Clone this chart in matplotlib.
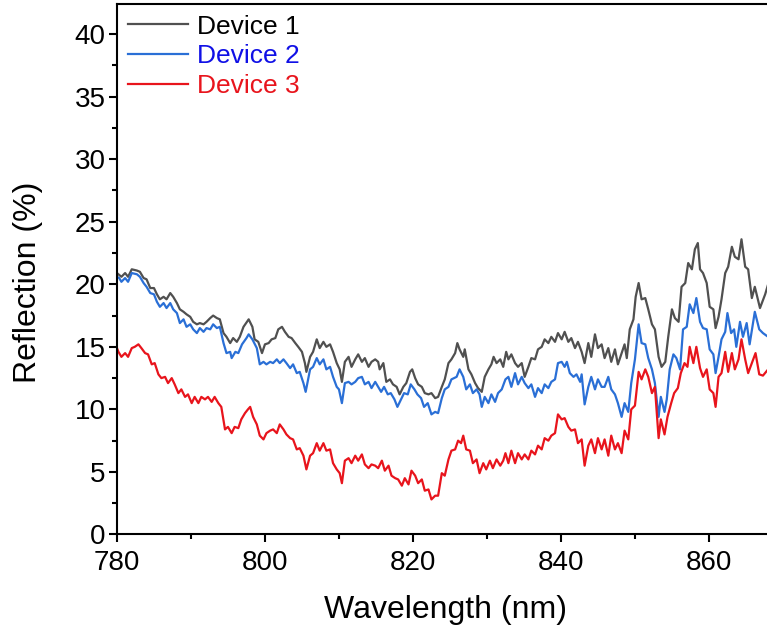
import numpy as np
import matplotlib
matplotlib.use('Agg')
import matplotlib.pyplot as plt
from matplotlib.ticker import MultipleLocator

plt.rcParams['font.family'] = ['Liberation Sans', 'DejaVu Sans']

# Device 1 (gray)
wl1 = [780.0, 780.6, 781.1, 781.5, 782.0, 782.7, 783.1, 783.6, 784.0, 784.5,
       785.0, 785.4, 785.8, 786.3, 786.7, 787.2, 787.6, 788.1, 788.5, 789.0,
       789.4, 789.9, 790.3, 790.8, 791.2, 791.7, 792.1, 792.6, 793.0, 793.5,
       793.9, 794.4, 794.8, 795.3, 795.7, 796.2, 796.6, 797.1, 797.8, 798.3,
       798.6, 799.1, 799.6, 800.0, 800.5, 800.9, 801.4, 801.8, 802.3, 802.7,
       803.2, 803.6, 804.1, 804.5, 805.0, 805.4, 805.6, 806.1, 806.5, 807.0,
       807.4, 807.9, 808.3, 808.8, 809.2, 809.7, 810.1, 810.4, 810.8, 811.3,
       811.7, 812.2, 812.6, 813.1, 813.5, 814.0, 814.4, 814.9, 815.3, 815.5,
       816.0, 816.4, 816.9, 817.3, 817.8, 818.2, 818.7, 819.1, 819.6, 819.9,
       820.3, 820.7, 821.2, 821.6, 822.1, 822.5, 823.0, 823.4, 823.9, 824.3,
       824.8, 825.2, 825.7, 826.0, 826.3, 826.8, 827.0, 827.5, 827.9, 828.4,
       828.8, 829.3, 829.7, 830.2, 830.6, 830.9, 831.3, 831.8, 832.2, 832.6,
       832.9, 833.3, 833.8, 834.2, 834.7, 835.1, 835.6, 836.0, 836.5, 836.9,
       837.4, 837.8, 838.3, 838.7, 839.2, 839.6, 840.1, 840.5, 841.0, 841.4,
       841.9, 842.3, 842.8, 843.2, 843.7, 844.1, 844.6, 845.0, 845.5, 845.9,
       846.4, 846.8, 847.3, 847.7, 848.2, 848.6, 848.9, 849.3, 849.8, 850.1,
       850.5, 850.9, 851.4, 851.8, 852.3, 852.7, 853.2, 853.6, 854.1, 854.5,
       855.0, 855.4, 855.9, 856.3, 856.8, 857.2, 857.7, 858.1, 858.5, 858.8,
       859.2, 859.7, 860.1, 860.6, 860.9, 861.3, 861.7, 862.2, 862.6, 863.1,
       863.5, 864.0, 864.4, 864.9, 865.3, 865.8, 866.2, 866.9, 867.6, 868.0]
r1 = [20.9, 20.6, 20.9, 20.6, 21.2, 21.1, 21.0, 20.5, 20.4, 19.7,
      19.7, 19.2, 18.8, 19.0, 18.8, 19.3, 19.0, 18.5, 18.0, 17.8,
      17.6, 17.4, 17.0, 16.8, 16.9, 16.8, 17.0, 17.3, 17.5, 17.3,
      17.2, 16.1, 15.8, 15.3, 15.7, 15.4, 15.8, 16.6, 17.2, 16.6,
      15.6, 15.4, 14.5, 15.2, 15.3, 15.6, 15.7, 16.4, 16.6, 16.2,
      15.8, 15.7, 15.3, 15.0, 14.6, 13.7, 13.0, 14.2, 14.6, 15.6,
      14.9, 15.4, 15.0, 15.2, 14.6, 13.7, 13.2, 12.2, 13.8, 14.2,
      13.4, 14.0, 14.4, 13.8, 14.1, 13.4, 13.8, 14.0, 13.8, 13.2,
      13.7, 12.2, 12.4, 12.0, 11.8, 11.2, 11.8, 12.1, 13.0, 13.2,
      12.5, 12.0, 11.8, 11.3, 11.2, 11.3, 10.9, 11.0, 11.8, 12.4,
      13.7, 14.0, 14.5, 15.3, 14.8, 14.2, 14.8, 13.2, 12.8, 12.1,
      11.7, 11.4, 12.6, 13.2, 13.6, 14.2, 13.7, 14.0, 13.4, 14.6,
      14.0, 14.4, 13.7, 13.4, 13.7, 12.6, 13.4, 14.1, 14.0, 14.8,
      15.0, 15.6, 15.3, 15.8, 15.4, 16.1, 15.6, 16.2, 15.4, 15.7,
      14.9, 15.4, 14.6, 13.7, 15.3, 14.2, 16.0, 14.9, 15.2, 14.1,
      14.9, 13.8, 14.8, 13.6, 14.5, 15.2, 14.1, 16.4, 17.2, 19.0,
      20.1, 18.8, 18.9, 18.0, 16.8, 16.4, 14.2, 13.4, 13.8, 15.8,
      18.0, 17.3, 17.0, 19.8, 20.1, 21.7, 21.2, 22.8, 23.3, 21.2,
      20.9, 20.1, 18.2, 18.0, 16.5, 17.4, 18.8, 20.9, 21.4, 23.0,
      22.2, 22.0, 23.6, 21.4, 21.2, 18.9, 19.8, 18.1, 19.2, 20.0]

# Device 2 (blue)
wl2 = [780.0, 780.3, 780.6, 781.1, 781.5, 782.0, 782.7, 783.1, 783.6, 784.0,
       784.5, 785.0, 785.4, 785.8, 786.3, 786.7, 787.2, 787.6, 788.1, 788.5,
       789.0, 789.4, 789.9, 790.3, 790.8, 791.2, 791.7, 792.1, 792.6, 793.0,
       793.5, 793.9, 794.4, 794.8, 795.3, 795.5, 796.0, 796.4, 796.9, 797.5,
       797.8, 798.3, 798.9, 799.3, 799.8, 800.2, 800.7, 801.1, 801.6, 802.0,
       802.5, 802.9, 803.4, 803.8, 804.3, 804.7, 805.2, 805.5, 806.1, 806.5,
       807.0, 807.4, 807.9, 808.3, 808.8, 809.2, 809.7, 810.0, 810.4, 810.8,
       811.3, 811.7, 812.2, 812.6, 813.1, 813.5, 814.0, 814.4, 814.9, 815.3,
       815.7, 816.1, 816.6, 817.0, 817.5, 817.9, 818.4, 818.8, 819.3, 819.7,
       820.2, 820.6, 821.1, 821.5, 822.0, 822.5, 823.0, 823.4, 823.9, 824.3,
       824.8, 825.2, 825.9, 826.3, 826.8, 827.2, 827.7, 828.1, 828.6, 829.0,
       829.3, 829.7, 830.2, 830.6, 831.1, 831.5, 832.0, 832.5, 832.9, 833.3,
       833.8, 834.2, 834.7, 835.1, 835.6, 836.0, 836.5, 836.9, 837.4, 837.8,
       838.3, 838.7, 839.2, 839.6, 840.1, 840.5, 840.8, 841.2, 841.7, 842.1,
       842.6, 842.8, 843.2, 843.7, 844.1, 844.6, 845.0, 845.5, 845.9, 846.4,
       846.8, 847.3, 847.7, 848.2, 848.6, 849.1, 849.5, 850.0, 850.5, 850.9,
       851.4, 851.8, 852.3, 852.7, 853.2, 853.5, 854.0, 854.3, 854.7, 855.2,
       855.6, 856.1, 856.5, 857.0, 857.4, 857.9, 858.3, 858.8, 859.2, 859.7,
       860.1, 860.6, 860.9, 861.3, 861.7, 862.2, 862.5, 863.0, 863.4, 863.7,
       864.2, 864.6, 865.1, 865.5, 866.2, 866.8, 867.3, 868.0]
r2 = [20.6, 20.5, 20.2, 20.5, 20.2, 20.9, 20.8, 20.6, 20.1, 19.8,
      19.3, 19.2, 18.6, 18.2, 18.5, 18.1, 18.5, 18.0, 17.7, 16.9,
      17.2, 16.6, 16.8, 16.4, 16.1, 16.5, 16.2, 16.5, 16.4, 16.8,
      16.5, 16.6, 15.3, 14.5, 14.6, 14.1, 14.6, 14.5, 15.2, 15.7,
      16.0, 15.6, 14.9, 13.6, 13.8, 13.6, 13.8, 13.7, 14.0, 13.7,
      14.0, 13.7, 13.3, 13.6, 12.9, 13.0, 12.1, 11.4, 13.2, 13.4,
      14.1, 13.6, 14.0, 13.2, 13.4, 12.6, 11.8, 11.6, 10.5, 12.1,
      12.2, 12.0, 12.2, 12.5, 12.6, 12.0, 12.2, 11.7, 12.2, 11.8,
      11.4, 11.8, 11.2, 11.3, 10.8, 10.2, 10.8, 11.3, 11.2, 12.0,
      11.6, 11.2, 10.9, 10.2, 10.5, 9.6, 9.8, 9.7, 10.9, 11.6,
      11.8, 12.4, 12.6, 13.2, 12.6, 11.6, 12.0, 11.3, 11.6, 11.2,
      10.2, 11.0, 10.5, 11.2, 10.6, 11.3, 11.6, 12.4, 12.6, 11.8,
      12.9, 12.0, 12.6, 12.1, 11.7, 12.0, 11.0, 11.7, 11.3, 12.0,
      11.7, 12.2, 12.4, 13.7, 13.8, 13.4, 13.8, 12.9, 12.6, 12.8,
      12.2, 12.8, 10.4, 11.8, 12.6, 11.6, 12.4, 11.8, 11.8, 12.6,
      11.6, 11.2, 10.5, 9.4, 10.5, 9.8, 12.1, 14.0, 16.8, 15.3,
      15.2, 14.1, 13.2, 12.1, 9.4, 11.0, 9.8, 10.8, 13.2, 14.4,
      14.1, 13.2, 16.4, 16.6, 18.4, 17.7, 18.9, 17.0, 16.5, 16.4,
      14.8, 14.4, 12.9, 14.2, 15.6, 16.2, 17.7, 16.1, 16.4, 15.0,
      17.0, 15.8, 16.9, 15.2, 17.8, 16.4, 16.1, 15.8]

# Device 3 (red)
wl3 = [780.0, 780.2, 780.6, 781.1, 781.5, 782.0, 782.4, 782.9, 783.3, 783.8,
       784.2, 784.7, 785.1, 785.6, 786.0, 786.5, 786.9, 787.4, 787.8, 788.3,
       788.7, 789.2, 789.6, 790.1, 790.5, 791.0, 791.4, 791.9, 792.3, 792.8,
       793.2, 793.7, 794.1, 794.6, 795.0, 795.5, 795.9, 796.4, 796.8, 797.3,
       797.7, 798.0, 798.4, 798.9, 799.3, 799.8, 800.2, 800.7, 801.1, 801.6,
       802.0, 802.5, 802.9, 803.4, 803.8, 804.3, 804.7, 805.2, 805.6, 806.1,
       806.5, 807.0, 807.4, 807.9, 808.3, 808.8, 809.2, 809.7, 810.1, 810.4,
       810.8, 811.3, 811.7, 812.2, 812.6, 813.1, 813.5, 814.0, 814.4, 814.9,
       815.3, 815.8, 816.2, 816.7, 817.1, 817.6, 818.0, 818.5, 818.9, 819.4,
       819.8, 820.3, 820.7, 821.2, 821.6, 822.1, 822.5, 823.0, 823.4, 823.9,
       824.3, 824.8, 825.2, 825.7, 826.1, 826.5, 826.8, 827.2, 827.7, 828.1,
       828.6, 829.0, 829.5, 829.9, 830.4, 830.8, 831.3, 831.8, 832.2, 832.5,
       832.9, 833.3, 833.8, 834.2, 834.7, 835.1, 835.6, 836.0, 836.5, 836.9,
       837.4, 837.8, 838.3, 838.7, 839.2, 839.6, 840.1, 840.5, 841.0, 841.4,
       841.9, 842.3, 842.8, 843.2, 843.7, 844.1, 844.6, 845.0, 845.5, 845.9,
       846.4, 846.8, 847.3, 847.7, 848.2, 848.6, 849.1, 849.5, 850.0, 850.5,
       850.9, 851.4, 851.8, 852.3, 852.7, 853.2, 853.5, 854.0, 854.4, 854.9,
       855.3, 855.8, 856.2, 856.7, 857.1, 857.4, 857.9, 858.3, 858.8, 859.2,
       859.7, 860.1, 860.6, 860.9, 861.3, 861.7, 862.2, 862.6, 863.1, 863.5,
       864.0, 864.4, 864.9, 865.3, 865.8, 866.3, 866.8, 867.3, 868.0]
r3 = [14.9, 14.6, 14.2, 14.5, 14.2, 14.9, 15.0, 15.2, 14.9, 14.5,
      14.4, 13.6, 13.7, 12.8, 12.5, 12.6, 12.1, 12.5, 12.0, 11.3,
      11.6, 11.0, 11.2, 10.5, 11.0, 10.5, 11.0, 10.8, 11.0, 10.6,
      11.0, 10.5, 10.2, 8.4, 8.6, 8.1, 8.6, 8.5, 9.2, 9.7,
      10.0, 10.2, 9.4, 8.8, 7.9, 7.6, 8.1, 8.3, 8.4, 8.1,
      8.8, 8.4, 8.0, 7.7, 7.6, 6.8, 6.9, 6.3, 5.2, 6.3,
      6.5, 7.3, 6.7, 7.3, 6.7, 6.8, 5.7, 5.2, 4.9, 4.1,
      5.9, 6.1, 5.7, 6.3, 5.9, 6.4, 5.6, 5.3, 5.6, 5.5,
      5.3, 5.9, 5.1, 5.5, 4.7, 4.5, 4.4, 3.9, 4.5, 4.0,
      5.1, 4.7, 4.1, 4.4, 3.5, 3.6, 2.8, 3.1, 3.1, 4.9,
      4.7, 6.0, 6.7, 6.8, 7.5, 7.3, 7.9, 6.8, 6.7, 5.7,
      6.0, 4.9, 5.7, 5.2, 5.9, 5.3, 6.0, 5.5, 5.9, 6.5,
      5.7, 6.7, 5.7, 6.5, 6.0, 6.4, 6.0, 6.7, 6.4, 7.1,
      6.8, 7.7, 7.5, 7.9, 8.1, 9.6, 9.2, 9.3, 8.6, 8.3,
      8.4, 7.3, 7.6, 5.5, 7.1, 7.6, 6.5, 7.7, 6.8, 7.6,
      6.3, 7.9, 6.8, 7.3, 6.5, 8.3, 7.6, 10.0, 10.3, 13.0,
      12.4, 13.2, 12.6, 11.3, 11.8, 7.7, 9.2, 8.0, 9.4, 10.5,
      11.3, 11.7, 12.9, 13.7, 13.4, 15.0, 13.7, 15.0, 13.3, 12.6,
      13.2, 11.6, 11.3, 10.2, 12.6, 12.9, 14.6, 13.0, 14.5, 13.2,
      14.0, 15.6, 14.0, 12.9, 13.7, 14.5, 12.8, 12.7, 13.2]

labels = ['Device 1', 'Device 2', 'Device 3']
line_colors = ['#505050', '#2a6fd6', '#e8141c']
text_colors = ['#000000', '#1010e6', '#e8141c']

fig = plt.figure(figsize=(7.67, 6.34), dpi=100)
# right edge of the box falls outside the figure, as in the original
ax = fig.add_axes([0.1525, 0.157, 0.8644, 0.8365])

for wl, r, lab, c in zip([wl1, wl2, wl3], [r1, r2, r3], labels, line_colors):
    ax.plot(wl, r, color=c, lw=1.6, label=lab)

ax.set_xlim(780, 869.6)
ax.set_ylim(0, 42.4)
ax.xaxis.set_major_locator(MultipleLocator(20))
ax.xaxis.set_minor_locator(MultipleLocator(10))
ax.yaxis.set_major_locator(MultipleLocator(5))
ax.yaxis.set_minor_locator(MultipleLocator(2.5))
ax.tick_params(which='major', direction='out', length=6, width=1.5,
               labelsize=20)
ax.tick_params(axis='x', which='major', pad=5)
ax.tick_params(axis='y', which='major', pad=2)
ax.tick_params(which='minor', direction='out', length=3.5, width=1.5)
for s in ax.spines.values():
    s.set_linewidth(1.5)

ax.set_xlabel('Wavelength (nm)', fontsize=23)
ax.set_ylabel('Reflection (%)', fontsize=23)
ax.xaxis.set_label_coords(0.496, -0.115)
ax.yaxis.set_label_coords(-0.112, 0.476)

leg = ax.legend(loc='upper left', frameon=False, fontsize=19,
                handlelength=2.3, handletextpad=0.35, labelspacing=0.22,
                borderaxespad=0.1, borderpad=0.3)
for t, c in zip(leg.get_texts(), text_colors):
    t.set_color(c)

fig.savefig('out.png', dpi=100)
